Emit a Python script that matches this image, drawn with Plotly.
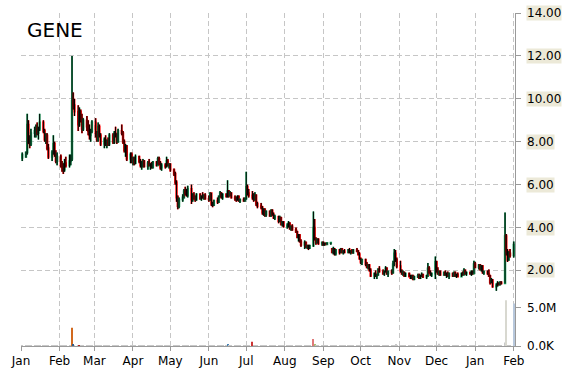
import pandas as pd
import plotly.graph_objects as go

ticker = "GENE"

# first line: Fri 2 Jan 2015 and Mon 5 Jan; then one line per trading week (Tue..Mon)
open_ = [
    7.25, 7.3,
    7.5, 8.8, 8.1, 7.9, 8.4,
    8.5, 8.6, 8.4, 8.6, 8.9,
    8.5, 8.1, 8.3, 7.7, 7.3,
    7.5, 7.9, 7.4, 7.1, 7.3,
    6.9, 6.8, 6.7, 7.0, 6.9,
    7.1, 7.2, 9.9, 9.7, 9.4,
    8.8, 9.4, 9.1, 8.6, 9.0,
    8.7, 8.5, 8.3, 8.5, 8.9,
    8.4, 8.1, 8.7, 8.3, 7.9,
    8.1, 7.9, 8.0, 7.9, 8.3,
    8.0, 8.4, 8.3, 8.0, 8.5,
    8.4, 8.0, 7.6, 7.8, 7.2,
    7.4, 7.1, 7.2, 7.0, 7.3,
    7.1, 6.9, 7.0, 7.1, 6.85,
    7.0, 6.9, 6.95, 6.8, 7.05,
    6.9, 7.2, 7.0, 6.8, 6.9,
    6.85, 7.1, 6.9, 6.95, 6.7,
    6.5, 6.1, 5.4, 5.0, 5.3,
    5.4, 5.7, 5.6, 5.5, 5.8,
    5.3, 5.5, 5.4, 5.3, 5.55,
    5.35, 5.45, 5.4, 5.5, 5.35,
    5.3, 5.6, 5.1, 5.05, 5.25,
    5.2, 5.45, 5.6, 5.4, 5.55,
    5.45, 5.7, 5.5, 5.6, 5.4,
    5.35, 5.3, 5.45, 5.25, 5.3,
    5.25, 5.35, 5.9, 5.6, 5.5,
    5.4, 5.3, 5.5, 5.1, 5.0,
    4.95, 4.7, 4.85, 4.6, 4.75,
    4.55, 4.8, 4.6, 4.45, 4.5,
    4.3, 4.45, 4.15, 4.25, 4.05,
    4.1, 4.2, 3.95, 4.05, 3.9,
    3.8, 3.55, 3.65, 3.35, 3.2,
    3.3, 3.1, 3.15, 3.05, 3.15,
    4.0, 3.5, 3.3, 3.45, 3.25,
    3.3, 3.2, 3.25, 3.22, 3.28,
    3.0, 2.85, 3.0, 2.8, 2.95,
    2.85, 3.0, 2.85, 2.9, 2.85,
    2.95, 2.85, 2.9, 2.82, 2.95,
    2.9, 2.75, 2.55, 2.4, 2.5,
    2.3, 2.15, 2.25, 2.0, 1.75,
    1.85, 1.75, 1.8, 2.05, 1.95,
    1.85, 1.95, 2.1, 1.85, 1.95,
    1.9, 2.3, 2.8, 2.5, 2.2,
    2.0, 1.85, 1.9, 1.75, 1.85,
    1.72, 1.65, 1.75, 1.6, 1.7,
    1.75, 1.65, 1.75, 1.8, 1.7,
    1.75, 2.1, 1.9, 1.8, 1.85,
    2.4, 2.0, 1.85, 1.95, 1.8,
    1.9, 1.8, 1.85, 1.75, 1.85,
    1.75, 1.9, 1.75, 1.8, 1.72,
    1.85, 1.8, 2.0, 1.85, 1.9,
    1.85, 1.95, 1.85, 2.3, 2.15,
    2.25, 2.05, 2.2, 1.9, 1.95,
    1.85, 1.75, 1.45, 1.55, 1.25,
    1.3, 1.4, 1.35, 1.45, 1.4,
    3.6, 2.9, 2.5, 2.8, 2.7,
]
high = [
    7.5, 7.55,
    9.3, 9.0, 8.3, 8.6, 8.7,
    8.8, 8.9, 8.7, 9.3, 9.0,
    8.6, 8.4, 8.4, 7.9, 7.6,
    8.3, 8.0, 7.6, 7.5, 7.4,
    7.1, 7.0, 7.2, 7.3, 7.4,
    7.4, 12.0, 10.3, 10.0, 9.7,
    9.6, 9.5, 9.3, 9.1, 9.2,
    9.0, 8.8, 8.6, 9.0, 9.1,
    8.5, 8.9, 8.8, 8.4, 8.2,
    8.3, 8.1, 8.2, 8.4, 8.4,
    8.5, 8.7, 8.4, 8.6, 8.8,
    8.5, 8.1, 7.9, 7.85, 7.5,
    7.5, 7.3, 7.3, 7.4, 7.35,
    7.2, 7.1, 7.2, 7.15, 7.1,
    7.2, 7.0, 7.05, 7.1, 7.1,
    7.3, 7.3, 7.1, 7.0, 7.0,
    7.3, 7.2, 7.0, 7.0, 6.75,
    6.6, 6.2, 5.5, 5.4, 5.55,
    5.8, 5.9, 5.8, 5.95, 6.0,
    5.6, 5.65, 5.5, 5.6, 5.6,
    5.5, 5.65, 5.55, 5.6, 5.5,
    5.65, 5.62, 5.2, 5.3, 5.4,
    5.5, 5.7, 5.65, 5.6, 5.6,
    6.2, 5.75, 5.7, 5.65, 5.5,
    5.45, 5.5, 5.5, 5.35, 5.4,
    5.4, 6.6, 6.0, 5.8, 5.7,
    5.6, 5.65, 5.55, 5.2, 5.15,
    5.0, 4.9, 4.9, 4.8, 4.8,
    4.85, 4.85, 4.7, 4.6, 4.55,
    4.55, 4.5, 4.3, 4.3, 4.2,
    4.3, 4.25, 4.1, 4.15, 4.0,
    3.85, 3.7, 3.7, 3.45, 3.4,
    3.35, 3.2, 3.2, 3.2, 4.75,
    4.4, 3.55, 3.5, 3.5, 3.35,
    3.35, 3.3, 3.3, 3.3, 3.3,
    3.05, 3.1, 3.05, 3.0, 3.0,
    3.05, 3.05, 2.95, 3.0, 3.0,
    3.05, 2.95, 3.0, 3.0, 3.05,
    2.95, 2.85, 2.6, 2.55, 2.55,
    2.4, 2.3, 2.3, 2.1, 1.9,
    2.0, 1.85, 2.1, 2.2, 2.05,
    2.0, 2.2, 2.15, 2.0, 2.05,
    2.45, 3.0, 2.95, 2.6, 2.45,
    2.05, 2.0, 1.95, 1.9, 1.9,
    1.8, 1.8, 1.8, 1.75, 1.85,
    1.85, 1.8, 1.9, 1.85, 1.8,
    2.35, 2.2, 2.0, 1.9, 2.65,
    2.45, 2.15, 2.0, 2.0, 1.95,
    2.0, 1.9, 1.95, 1.9, 1.9,
    1.95, 1.95, 1.85, 1.9, 1.9,
    1.95, 2.1, 2.05, 1.95, 1.95,
    2.0, 2.0, 2.45, 2.4, 2.3,
    2.3, 2.25, 2.25, 2.0, 2.0,
    2.05, 1.8, 1.65, 1.6, 1.4,
    1.5, 1.45, 1.5, 1.5, 4.7,
    3.7, 3.0, 2.9, 3.0, 3.35,
]
low = [
    7.1, 7.25,
    7.4, 7.9, 7.7, 7.8, 8.2,
    8.2, 8.3, 8.1, 8.5, 8.4,
    8.0, 7.9, 7.6, 7.2, 7.1,
    7.4, 7.3, 7.0, 6.9, 6.8,
    6.6, 6.5, 6.6, 6.8, 6.8,
    6.9, 7.1, 9.5, 9.2, 8.5,
    8.7, 8.9, 8.4, 8.5, 8.5,
    8.3, 8.1, 8.0, 8.4, 8.2,
    8.0, 8.0, 8.2, 7.8, 7.7,
    7.8, 7.7, 7.8, 7.8, 7.9,
    7.9, 8.2, 7.9, 7.95, 8.3,
    7.9, 7.5, 7.3, 7.1, 7.0,
    7.0, 6.9, 6.9, 6.95, 7.0,
    6.8, 6.7, 6.8, 6.8, 6.7,
    6.85, 6.7, 6.75, 6.75, 6.85,
    6.9, 6.9, 6.7, 6.65, 6.75,
    6.8, 6.85, 6.75, 6.6, 6.4,
    6.0, 5.2, 4.85, 4.9, 5.2,
    5.35, 5.5, 5.45, 5.4, 5.1,
    5.2, 5.3, 5.2, 5.25, 5.3,
    5.25, 5.35, 5.3, 5.3, 5.2,
    5.25, 5.0, 4.95, 5.0, 5.1,
    5.15, 5.4, 5.35, 5.3, 5.4,
    5.4, 5.4, 5.45, 5.35, 5.25,
    5.2, 5.25, 5.2, 5.15, 5.2,
    5.2, 5.3, 5.5, 5.4, 5.3,
    5.2, 5.25, 5.0, 4.9, 4.85,
    4.6, 4.55, 4.5, 4.5, 4.5,
    4.5, 4.55, 4.4, 4.35, 4.2,
    4.25, 4.1, 4.05, 4.0, 3.95,
    4.0, 3.9, 3.85, 3.85, 3.75,
    3.5, 3.35, 3.3, 3.1, 3.0,
    3.05, 3.0, 2.95, 3.0, 3.1,
    3.4, 3.2, 3.25, 3.2, 3.15,
    3.15, 3.15, 3.2, 3.2, 3.2,
    2.8, 2.75, 2.7, 2.7, 2.75,
    2.8, 2.8, 2.75, 2.8, 2.8,
    2.8, 2.75, 2.8, 2.78, 2.85,
    2.7, 2.5, 2.3, 2.25, 2.2,
    2.1, 2.05, 1.95, 1.7, 1.6,
    1.7, 1.6, 1.75, 1.9, 1.8,
    1.75, 1.9, 1.8, 1.7, 1.8,
    1.85, 2.2, 2.4, 2.1, 1.9,
    1.8, 1.75, 1.7, 1.7, 1.7,
    1.6, 1.6, 1.55, 1.55, 1.65,
    1.6, 1.6, 1.7, 1.65, 1.6,
    1.7, 1.85, 1.75, 1.7, 1.6,
    1.9, 1.8, 1.75, 1.75, 1.75,
    1.75, 1.65, 1.7, 1.6, 1.7,
    1.7, 1.7, 1.65, 1.7, 1.7,
    1.75, 1.78, 1.8, 1.75, 1.8,
    1.75, 1.8, 1.85, 2.1, 2.05,
    2.0, 1.95, 1.85, 1.8, 1.8,
    1.7, 1.35, 1.4, 1.2, 1.05,
    1.25, 1.3, 1.3, 1.35, 1.4,
    2.7, 2.4, 2.45, 2.6, 2.6,
]
close = [
    7.4, 7.5,
    8.8, 8.1, 7.9, 8.4, 8.5,
    8.6, 8.4, 8.6, 8.9, 8.5,
    8.1, 8.3, 7.7, 7.3, 7.5,
    7.9, 7.4, 7.1, 7.3, 6.9,
    6.8, 6.7, 7.0, 6.9, 7.1,
    7.2, 9.9, 9.7, 9.4, 8.8,
    9.4, 9.1, 8.6, 9.0, 8.7,
    8.5, 8.3, 8.5, 8.9, 8.4,
    8.1, 8.7, 8.3, 7.9, 8.1,
    7.9, 8.0, 7.9, 8.3, 8.0,
    8.4, 8.3, 8.0, 8.5, 8.4,
    8.0, 7.6, 7.8, 7.2, 7.4,
    7.1, 7.2, 7.0, 7.3, 7.1,
    6.9, 7.0, 7.1, 6.85, 7.0,
    6.9, 6.95, 6.8, 7.05, 6.9,
    7.2, 7.0, 6.8, 6.9, 6.85,
    7.1, 6.9, 6.95, 6.7, 6.5,
    6.1, 5.4, 5.0, 5.3, 5.4,
    5.7, 5.6, 5.5, 5.8, 5.3,
    5.5, 5.4, 5.3, 5.55, 5.35,
    5.45, 5.4, 5.5, 5.35, 5.3,
    5.6, 5.1, 5.05, 5.25, 5.2,
    5.45, 5.6, 5.4, 5.55, 5.45,
    5.7, 5.5, 5.6, 5.4, 5.35,
    5.3, 5.45, 5.25, 5.3, 5.25,
    5.35, 5.9, 5.6, 5.5, 5.4,
    5.3, 5.5, 5.1, 5.0, 4.95,
    4.7, 4.85, 4.6, 4.75, 4.55,
    4.8, 4.6, 4.45, 4.5, 4.3,
    4.45, 4.15, 4.25, 4.05, 4.1,
    4.2, 3.95, 4.05, 3.9, 3.8,
    3.55, 3.65, 3.35, 3.2, 3.3,
    3.1, 3.15, 3.05, 3.15, 4.0,
    3.5, 3.3, 3.45, 3.25, 3.3,
    3.2, 3.25, 3.22, 3.28, 3.3,
    2.85, 3.0, 2.8, 2.95, 2.85,
    3.0, 2.85, 2.9, 2.85, 2.95,
    2.85, 2.9, 2.82, 2.95, 2.9,
    2.75, 2.55, 2.4, 2.5, 2.3,
    2.15, 2.25, 2.0, 1.75, 1.85,
    1.75, 1.8, 2.05, 1.95, 1.85,
    1.95, 2.1, 1.85, 1.95, 1.9,
    2.3, 2.8, 2.5, 2.2, 2.0,
    1.85, 1.9, 1.75, 1.85, 1.72,
    1.65, 1.75, 1.6, 1.7, 1.75,
    1.65, 1.75, 1.8, 1.7, 1.75,
    2.1, 1.9, 1.8, 1.85, 2.4,
    2.0, 1.85, 1.95, 1.8, 1.9,
    1.8, 1.85, 1.75, 1.85, 1.75,
    1.9, 1.75, 1.8, 1.72, 1.85,
    1.8, 2.0, 1.85, 1.9, 1.85,
    1.95, 1.85, 2.3, 2.15, 2.25,
    2.05, 2.2, 1.9, 1.95, 1.85,
    1.75, 1.45, 1.55, 1.25, 1.3,
    1.4, 1.35, 1.45, 1.4, 3.6,
    2.9, 2.5, 2.8, 2.7, 3.2,
]
# volume in thousands of shares
volume_k = [
    35, 30,
    60, 45, 30, 25, 40,
    30, 20, 35, 50, 25,
    20, 30, 40, 25, 15,
    30, 20, 25, 35, 20,
    25, 30, 15, 20, 40,
    30, 2400, 150, 60, 45,
    110, 50, 40, 30, 25,
    20, 35, 25, 30, 20,
    25, 40, 20, 15, 30,
    20, 25, 30, 20, 15,
    25, 30, 20, 35, 20,
    30, 25, 15, 20, 25,
    20, 15, 25, 30, 10,
    15, 20, 25, 15, 20,
    20, 15, 10, 25, 20,
    25, 20, 15, 20, 15,
    20, 15, 25, 20, 30,
    40, 60, 50, 30, 25,
    30, 25, 20, 30, 35,
    20, 15, 20, 25, 15,
    15, 20, 15, 20, 10,
    20, 30, 25, 15, 20,
    15, 20, 25, 15, 20,
    150, 30, 20, 15, 20,
    15, 20, 10, 15, 20,
    20, 60, 30, 25, 550,
    30, 25, 20, 25, 30,
    20, 15, 25, 20, 15,
    20, 25, 15, 20, 25,
    15, 20, 25, 15, 20,
    20, 25, 15, 20, 30,
    25, 20, 30, 25, 20,
    20, 15, 25, 20, 920,
    150, 40, 25, 20, 15,
    15, 20, 10, 15, 20,
    20, 25, 15, 20, 15,
    15, 20, 25, 15, 20,
    20, 15, 20, 25, 15,
    20, 30, 25, 20, 30,
    35, 25, 30, 40, 30,
    25, 20, 30, 25, 20,
    20, 30, 25, 20, 25,
    40, 80, 200, 50, 30,
    25, 20, 30, 20, 15,
    15, 20, 25, 15, 20,
    20, 15, 20, 25, 15,
    60, 100, 30, 20, 70,
    40, 30, 300, 20, 25,
    20, 15, 25, 20, 15,
    15, 20, 15, 25, 20,
    20, 30, 20, 15, 20,
    25, 20, 40, 30, 25,
    30, 120, 25, 20, 15,
    30, 60, 40, 50, 70,
    40, 30, 35, 25, 450,
    6000, 120, 80, 60, 5600,
]
price_ticks = [2, 4, 6, 8, 10, 12, 14]
vol_ticks = [0, 5_000_000]
vol_tick_labels = ["0.0K", "5.0M"]

# ---------------------------------------------------------------- styling
FONT = "DejaVu Sans"
UP, DOWN = "#14a05a", "#ff0000"
GRID = "#c6c6c6"
AXIS = "#9a9a9a"
LABEL_BG = "#ECE9D8"
vol_color_map = {
    "2015-02-11": "#d2691e", "2015-02-12": "#2f5f8f", "2015-02-17": "#b22222",
    "2015-06-16": "#4682b4", "2015-07-06": "#cd3333", "2015-08-24": "#e07a7a",
    "2015-08-25": "#a8c070", "2016-01-26": "#d8d8d0", "2016-02-01": "#b8c8dc",
}

dates = pd.bdate_range("2015-01-02", periods=len(close))
volume = [v * 1000 for v in volume_k]
vol_colors = [vol_color_map.get(d.strftime("%Y-%m-%d"), "#c8c8c8") for d in dates]

fig = go.Figure()
fig.add_trace(go.Bar(x=dates, y=volume, yaxis="y2", marker=dict(color=vol_colors, line=dict(width=0)),
                     hoverinfo="skip", showlegend=False))
fig.add_trace(go.Candlestick(
    x=dates, open=open_, high=high, low=low, close=close,
    increasing=dict(line=dict(color=UP, width=1.8), fillcolor=UP),
    decreasing=dict(line=dict(color=DOWN, width=1.8), fillcolor=DOWN),
    whiskerwidth=0, showlegend=False, yaxis="y"))
wx, wy = [], []
for d, lo, hi in zip(dates, low, high):
    wx += [d, d, None]
    wy += [lo, hi, None]
fig.add_trace(go.Scatter(x=wx, y=wy, mode="lines", line=dict(color="black", width=1),
                         hoverinfo="skip", showlegend=False, yaxis="y"))

annotations = [dict(text=ticker, xref="paper", yref="paper", x=0.008, y=0.95, xanchor="left",
                    yanchor="middle", showarrow=False, font=dict(family=FONT, size=20, color="black"))]
for v in price_ticks:
    annotations.append(dict(text=f"{v:.2f}", xref="paper", yref="y", x=1, y=v, xanchor="left",
                            yanchor="middle", xshift=11, showarrow=False, bgcolor=LABEL_BG, borderpad=0,
                            font=dict(family=FONT, size=12, color="black")))
for v, t in zip(vol_ticks, vol_tick_labels):
    annotations.append(dict(text=t, xref="paper", yref="y2", x=1, y=v, xanchor="left",
                            yanchor="middle", xshift=11, showarrow=False, borderpad=0,
                            font=dict(family=FONT, size=12, color="black")))

fig.update_layout(
    width=570, height=370, margin=dict(l=21, r=55, t=13, b=24, autoexpand=False),
    paper_bgcolor="white", plot_bgcolor="white", showlegend=False,
    font=dict(family=FONT, size=12, color="black"),
    annotations=annotations,
    xaxis=dict(type="date", range=["2015-01-01", "2016-02-02"], rangeslider=dict(visible=False),
               automargin=False,
               dtick="M1", tick0="2015-01-01", tickformat="%b", ticks="outside", ticklen=4,
               tickcolor=AXIS, showline=True, linecolor=AXIS, linewidth=1,
               showgrid=True, gridcolor=GRID, griddash="5px,3px", gridwidth=1, zeroline=False,
               tickfont=dict(family=FONT, size=12, color="black")),
    yaxis=dict(side="right", range=[-1.52, 14], tickvals=price_ticks, showticklabels=False,
               automargin=False,
               ticks="outside", ticklen=5, tickcolor=AXIS, showline=True, linecolor=AXIS,
               showgrid=True, gridcolor=GRID, griddash="5px,3px", zeroline=False),
    yaxis2=dict(side="right", overlaying="y", range=[0, 43.75e6], tickvals=vol_ticks,
                automargin=False,
                showticklabels=False, ticks="outside", ticklen=5, tickcolor=AXIS,
                showgrid=False, zeroline=False, showline=False),
)

fig.write_html("out.html")
